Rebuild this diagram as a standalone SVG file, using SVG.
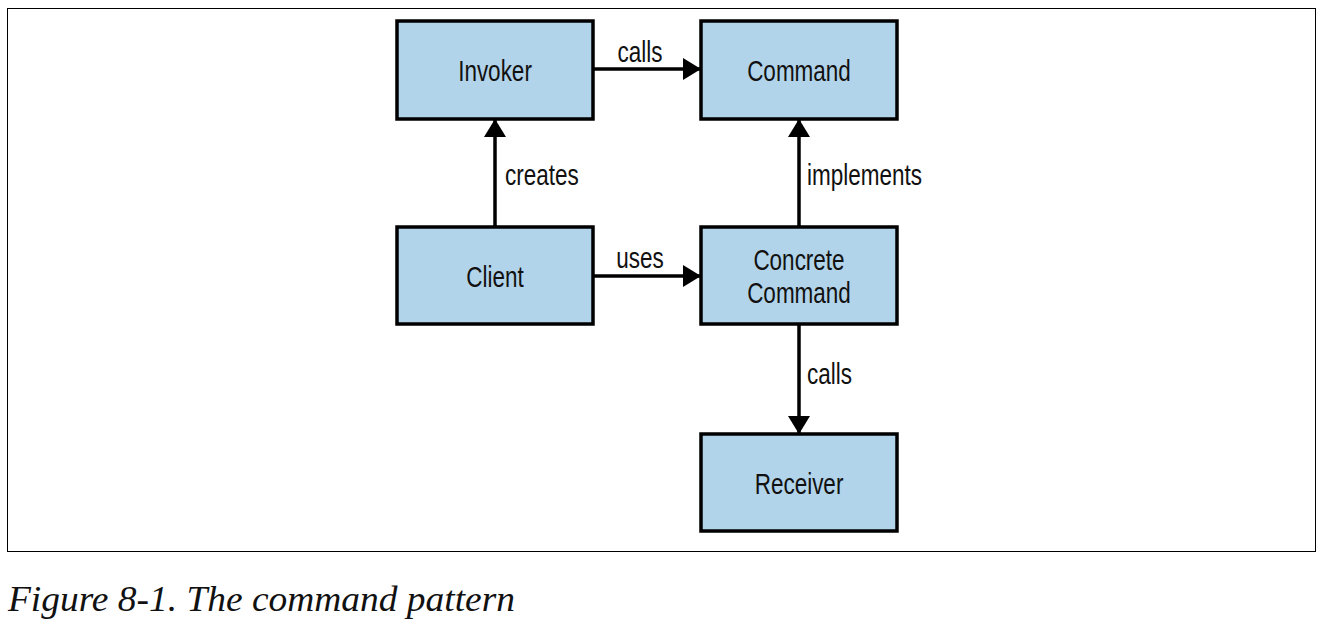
<svg xmlns="http://www.w3.org/2000/svg" width="1324" height="626" viewBox="0 0 1324 626">
<defs>
<style>
.box{fill:#b2d4ea;stroke:#000;stroke-width:3.5}
.lbl{font-family:"Liberation Sans",Arial,sans-serif;font-size:30px;fill:#111}
.c{text-anchor:middle}
.edge{stroke:#000;stroke-width:3.5;fill:none;marker-end:url(#ah)}
</style>
<marker id="ah" viewBox="0 0 18 22" refX="17" refY="11" markerWidth="18" markerHeight="22" markerUnits="userSpaceOnUse" orient="auto">
<path d="M0,0 L18,11 L0,22 z" fill="#000"/>
</marker>
</defs>
<rect x="7.5" y="8.5" width="1308" height="543" fill="#fff" stroke="#000" stroke-width="1"/>
<g id="connectors">
<line class="edge" x1="593" y1="69" x2="700" y2="69"/>
<text class="lbl c" transform="translate(640,62) scale(0.75,1)">calls</text>
<line class="edge" x1="495" y1="227" x2="495" y2="120"/>
<text class="lbl" transform="translate(505,185) scale(0.75,1)">creates</text>
<line class="edge" x1="799" y1="227" x2="799" y2="120"/>
<text class="lbl" transform="translate(807,185) scale(0.75,1)">implements</text>
<line class="edge" x1="593" y1="276" x2="700" y2="276"/>
<text class="lbl c" transform="translate(640,268) scale(0.75,1)">uses</text>
<line class="edge" x1="799" y1="324" x2="799" y2="433"/>
<text class="lbl" transform="translate(807,384) scale(0.75,1)">calls</text>
</g>
<g id="invoker">
<rect class="box" x="397" y="21" width="196" height="98"/>
<text class="lbl c" transform="translate(495,81) scale(0.75,1)">Invoker</text>
</g>
<g id="command">
<rect class="box" x="701" y="21" width="196" height="98"/>
<text class="lbl c" transform="translate(799,81) scale(0.75,1)">Command</text>
</g>
<g id="client">
<rect class="box" x="397" y="227" width="196" height="97"/>
<text class="lbl c" transform="translate(495,287) scale(0.75,1)">Client</text>
</g>
<g id="concrete-command">
<rect class="box" x="701" y="227" width="196" height="97"/>
<text class="lbl c" transform="translate(799,270) scale(0.75,1)">Concrete</text>
<text class="lbl c" transform="translate(799,303) scale(0.75,1)">Command</text>
</g>
<g id="receiver">
<rect class="box" x="701" y="434" width="196" height="97"/>
<text class="lbl c" transform="translate(799,494) scale(0.75,1)">Receiver</text>
</g>
<text x="8" y="611" font-family="Liberation Serif,serif" font-style="italic" font-size="36" fill="#111" textLength="507" lengthAdjust="spacingAndGlyphs">Figure 8-1. The command pattern</text>
</svg>
